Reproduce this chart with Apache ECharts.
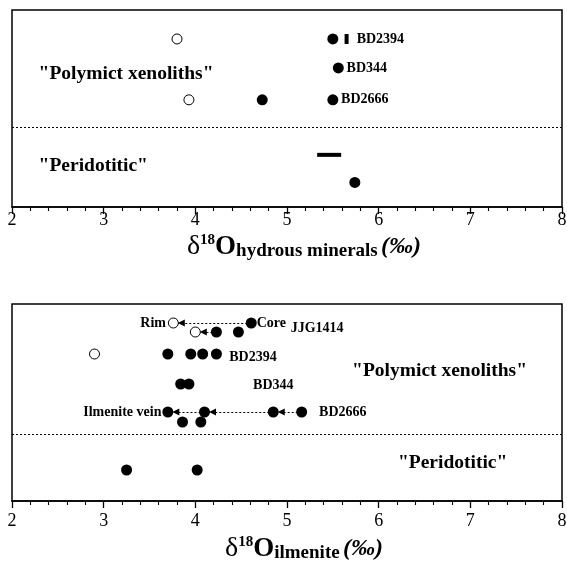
<!DOCTYPE html>
<html><head><meta charset="utf-8">
<script src="https://cdn.jsdelivr.net/npm/echarts@6/dist/echarts.min.js"></script>
<style>html,body{margin:0;padding:0;background:#fff}#c{width:567px;height:561px}</style>
</head><body><div id="c"></div>
<script>
// ---- Data (δ18O ‰, row level) ----
// Top panel: hydrous minerals (row levels on a 0..6.8 scale)
var topOpen = [[3.80, 1.0], [3.93, 3.1]];
var topFilled = [[5.50, 1.0], [5.56, 2.0], [4.73, 3.1], [5.50, 3.1], [5.74, 5.95]];
var topBar = [[5.65, 1.0]];
var topDash = [[5.46, 5.0]];
var topDivider = 4.05;
var topLabels = [[5.76, 1.0, 'BD2394'], [5.65, 2.0, 'BD344'], [5.59, 3.1, 'BD2666']];
var topGroups = [[2.29, 2.2, '"Polymict xenoliths"'], [2.29, 5.4, '"Peridotitic"']];

// Bottom panel: ilmenite (row levels on a 0..19.7 scale)
var botOpen = [[3.76, 1.9], [4.00, 2.8], [2.90, 5.0]];
var botFilled = [[4.61, 1.9], [4.23, 2.8], [4.47, 2.8],
  [3.70, 5.0], [3.95, 5.0], [4.08, 5.0], [4.23, 5.0],
  [3.84, 8.0], [3.93, 8.0],
  [3.70, 10.8], [4.10, 10.8], [4.85, 10.8], [5.16, 10.8],
  [3.86, 11.8], [4.06, 11.8],
  [3.25, 16.6], [4.02, 16.6]];
// core -> rim trends (from, to, row)
var botArrows = [[4.61, 3.76, 1.9], [4.23, 4.00, 2.8], [5.16, 4.85, 10.8], [4.85, 4.10, 10.8], [4.10, 3.70, 10.8]];
var botDivider = 13.0;
var botLabelsRight = [[4.67, 1.9, 'Core'], [5.04, 2.4, 'JJG1414'], [4.37, 5.3, 'BD2394'], [4.63, 8.1, 'BD344'], [5.35, 10.8, 'BD2666']];
var botLabelsLeft = [[3.68, 1.9, 'Rim'], [3.63, 10.8, 'Ilmenite vein']];
var botGroups = [[5.71, 6.7, '"Polymict xenoliths"'], [6.21, 15.9, '"Peridotitic"']];

var xTicks = {min: 2, max: 8, interval: 1};

// ---- Chart ----
var FONT = '"Liberation Serif", "DejaVu Serif", serif';
var chart = echarts.init(document.getElementById('c'));

function xAxis(gridIndex, sub, labelMargin, nameGap) {
  return {
    gridIndex: gridIndex, type: 'value', position: 'bottom',
    min: xTicks.min, max: xTicks.max, interval: xTicks.interval,
    axisLine: {show: true, onZero: false, lineStyle: {color: '#000', width: 1.5}},
    axisTick: {show: true, inside: false, length: 7, lineStyle: {color: '#000', width: 1.3}},
    minorTick: {show: true, splitNumber: 5, length: 4, lineStyle: {color: '#000', width: 1.1}},
    splitLine: {show: false},
    axisLabel: {color: '#000', fontFamily: FONT, fontSize: 18, margin: labelMargin},
    name: '{d|δ}{sup|18}{o|O}{sub|' + sub + '} {p|(‰)}',
    nameLocation: 'middle', nameGap: nameGap,
    nameTextStyle: {
      padding: [0, 0, 0, 34],
      rich: {
        d: {fontFamily: FONT, fontSize: 28, color: '#000'},
        sup: {fontFamily: FONT, fontSize: 15, fontWeight: 'bold', color: '#000', verticalAlign: 'top', padding: [0, 0, 12, 0]},
        o: {fontFamily: FONT, fontSize: 27, fontWeight: 'bold', color: '#000'},
        sub: {fontFamily: FONT, fontSize: 19, fontWeight: 'bold', color: '#000', verticalAlign: 'bottom', padding: [9, 0, 0, 0]},
        p: {fontFamily: FONT, fontSize: 24, fontStyle: 'italic', fontWeight: 'bold', color: '#000'}
      }
    }
  };
}
function yAxis(gridIndex, max) {
  return {gridIndex: gridIndex, type: 'value', min: 0, max: max, inverse: true, show: false};
}
function textSeries(xi, data, pos, size) {
  return {
    type: 'scatter', xAxisIndex: xi, yAxisIndex: xi, symbolSize: 0, silent: true, z: 5,
    itemStyle: {opacity: 1},
    data: data.map(function (d) { return {value: [d[0], d[1]], name: d[2]}; }),
    label: {show: true, position: pos, distance: 0, formatter: '{b}', color: '#000',
      fontFamily: FONT, fontWeight: 'bold', fontSize: size}
  };
}
function dividerSeries(xi, level) {
  return {
    type: 'lines', coordinateSystem: 'cartesian2d', xAxisIndex: xi, yAxisIndex: xi, silent: true,
    lineStyle: {color: '#000', width: 1, type: [2, 2], opacity: 1},
    data: [{coords: [[xTicks.min, level], [xTicks.max, level]]}]
  };
}
function circles(xi, data, open) {
  return {
    type: 'scatter', xAxisIndex: xi, yAxisIndex: xi, symbol: 'circle', symbolSize: open ? 10 : 11, z: 4,
    itemStyle: open ? {color: '#fff', borderColor: '#000', borderWidth: 1, opacity: 1} : {color: '#000', opacity: 1},
    data: data
  };
}

var option = {
  backgroundColor: '#fff',
  animation: false,
  grid: [
    {left: 12, right: 5, top: 10, height: 197, show: true, borderColor: '#000', borderWidth: 1.5,
      containLabel: false, outerBoundsMode: 'none'},
    {left: 12, right: 5, top: 304, height: 197, show: true, borderColor: '#000', borderWidth: 1.5,
      containLabel: false, outerBoundsMode: 'none'}
  ],
  xAxis: [xAxis(0, 'hydrous minerals', 4, 26), xAxis(1, 'ilmenite', 11, 34)],
  yAxis: [yAxis(0, 6.8), yAxis(1, 19.7)],
  series: [
    dividerSeries(0, topDivider),
    circles(0, topOpen, true),
    circles(0, topFilled, false),
    {type: 'scatter', xAxisIndex: 0, yAxisIndex: 0, symbol: 'rect', symbolSize: [4, 10], itemStyle: {color: '#000', opacity: 1}, data: topBar},
    {type: 'scatter', xAxisIndex: 0, yAxisIndex: 0, symbol: 'rect', symbolSize: [24, 4], itemStyle: {color: '#000', opacity: 1}, data: topDash},
    textSeries(0, topLabels, 'right', 14),
    textSeries(0, topGroups, 'right', 19.5),

    dividerSeries(1, botDivider),
    {
      type: 'lines', coordinateSystem: 'cartesian2d', xAxisIndex: 1, yAxisIndex: 1, silent: true, z: 2,
      lineStyle: {color: '#000', width: 1, type: [2, 2], opacity: 1},
      data: botArrows.map(function (a) { return {coords: [[a[0], a[2]], [a[1], a[2]]]}; })
    },
    {
      type: 'scatter', xAxisIndex: 1, yAxisIndex: 1, symbol: 'triangle', symbolRotate: 90,
      symbolSize: [7, 7], symbolOffset: [8, 0], itemStyle: {color: '#000', opacity: 1}, z: 3,
      data: botArrows.map(function (a) { return [a[1], a[2]]; })
    },
    circles(1, botOpen, true),
    circles(1, botFilled, false),
    textSeries(1, botLabelsRight, 'right', 14),
    textSeries(1, botLabelsLeft, 'left', 14),
    textSeries(1, botGroups, 'right', 19.5)
  ]
};
chart.setOption(option);
</script>
</body></html>
